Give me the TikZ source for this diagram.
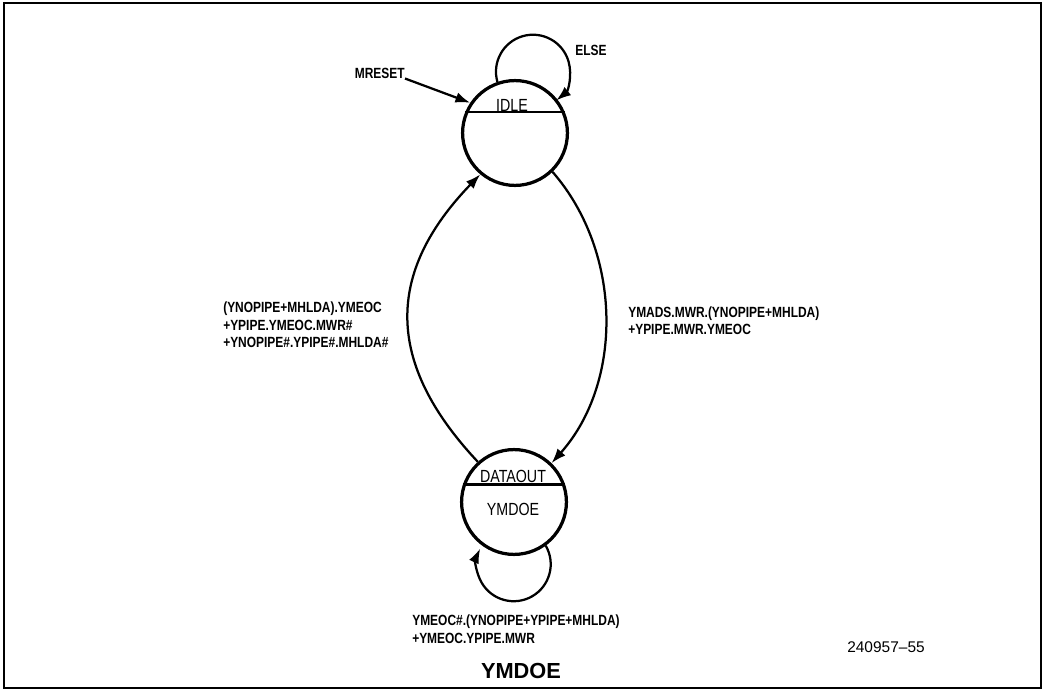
\documentclass[tikz,border=0pt]{standalone}
\usepackage{fontspec}
\setmainfont{Liberation Sans}
\newfontfamily\condfont[FakeStretch=0.81]{Liberation Sans}
\usepackage{tikz}
\usetikzlibrary{arrows.meta}

\begin{document}
\begin{tikzpicture}[x=0.025cm,y=0.025cm,
	state/.style={draw,circle,line width=2.3pt,minimum size=2.62cm,inner sep=0pt},
	sname/.style={font=\condfont\fontsize{12.5}{14}\selectfont,inner sep=0pt},
	cond/.style={font=\condfont\bfseries\fontsize{10.5}{12.4}\selectfont,align=left,inner sep=0pt},
	trans/.style={line width=1.6pt,-{Latex[length=10.5pt,width=7.5pt]}}]
		
		\useasboundingbox (0,0) rectangle (1045,693);
		% outer frame
		\draw[line width=1.8pt] (4,5) rectangle (1041,690);
		
		% the two states, split by a line near the top
		\node[state] (idle) at (515,560) {};
		\node[state] (dout) at (514,191) {};
		\draw[line width=1.6pt] (idle.157) -- (idle.23);
		\draw[line width=1.6pt] (dout.161) -- (dout.19);
		\node[sname] (idlename) at (512,588) {IDLE};
		\node[sname] (doutname) at (513,217) {DATAOUT};
		\node[sname] (doutout) at (513,184) {YMDOE};
		
		% reset and self loops
		\node[cond,anchor=east] (mreset) at (405,620) {MRESET};
		\draw[trans] (mreset.south east) -- (idle.146);
		\draw[trans] (idle.109) arc[start angle=196,end angle=-51,radius=37];
		\node[cond] (else) at (591,643) {ELSE};
		\draw[trans] (dout.-54) arc[start angle=30,end angle=-205,radius=37];
		
		% transitions between the states
		\draw[trans] (dout.132) .. controls (385,330) and (385,420) .. (idle.230);
		\draw[trans] (idle.-46) .. controls (623,440) and (623,310) .. (dout.46);
		
		% conditions
		\node[cond,anchor=west] (toidle) at (223,368) {(YNOPIPE+MHLDA).YMEOC\\+YPIPE.YMEOC.MWR\#\\+YNOPIPE\#.YPIPE\#.MHLDA\#};
		\node[cond,anchor=west] (todout) at (628,372) {YMADS.MWR.(YNOPIPE+MHLDA)\\+YPIPE.MWR.YMEOC};
		\node[cond,anchor=west] (stay) at (412,64) {YMEOC\#.(YNOPIPE+YPIPE+MHLDA)\\+YMEOC.YPIPE.MWR};
		
		% caption
		\node[font=\bfseries\fontsize{15.5}{18}\selectfont] (title) at (521,22) {YMDOE};
		\node[font=\fontsize{11}{13}\selectfont] (figno) at (886,46) {240957--55};
		
	\end{tikzpicture}
\end{document}
